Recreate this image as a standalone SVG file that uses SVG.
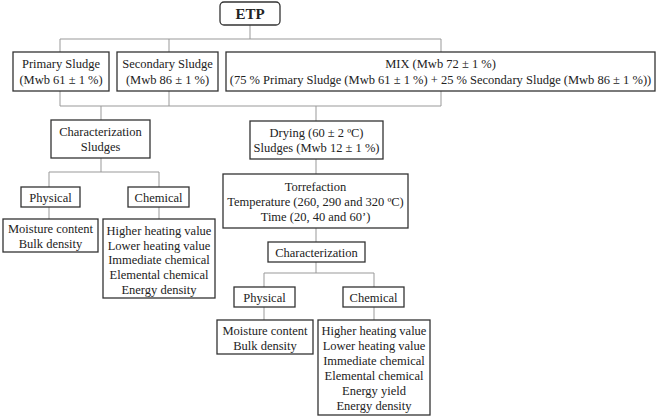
<svg xmlns="http://www.w3.org/2000/svg" width="660" height="418" viewBox="0 0 660 418" font-family="'Liberation Serif', 'Times New Roman', Times, serif">
<style>
.box{fill:#fff;stroke:#333;stroke-width:1.3}
.c{fill:none;stroke:#999;stroke-width:1}
text{font-family:'Liberation Serif','Times New Roman',Times,serif;font-size:12.5px;fill:#222;text-anchor:middle}
.b{font-weight:bold;font-size:15px}
</style>
<rect width="660" height="418" fill="#fff"/>
<g id="connectors">
<path class="c" d="M250 25V39M60 39H441M60 39V52M169 39V52M441 39V52"/>
<path class="c" d="M60 91V106M169 91V106M441 91V106M60 106H441M101 106V120M316 106V121"/>
<path class="c" d="M101 158V172M49 172H159M49 172V187M159 172V187M49 207V219M159 207V219"/>
<path class="c" d="M316 159V174M316 228V242M316 262V273M264 273H374M264 273V287M374 273V287M264 307V320M374 307V320"/>
</g>
<g id="etp"><rect class="box" x="220" y="2" width="60" height="23" rx="4"/><text class="b" x="250" y="19">ETP</text></g>
<g id="primary"><rect class="box" x="13" y="52" width="96" height="39"/><text x="61" y="68">Primary Sludge</text><text x="61" y="84">(Mwb 61 ± 1 %)</text></g>
<g id="secondary"><rect class="box" x="117" y="52" width="101" height="39"/><text x="167.5" y="68">Secondary Sludge</text><text x="167.5" y="84">(Mwb 86 ± 1 %)</text></g>
<g id="mix"><rect class="box" x="226" y="52" width="429" height="39"/><text x="440.5" y="68">MIX (Mwb 72 ± 1 %)</text><text x="440.5" y="84">(75 % Primary Sludge (Mwb 61 ± 1 %) + 25 % Secondary Sludge (Mwb 86 ± 1 %))</text></g>
<g id="char-sludges"><rect class="box" x="51" y="120" width="99" height="38"/><text x="100.5" y="136">Characterization</text><text x="100.5" y="151">Sludges</text></g>
<g id="drying"><rect class="box" x="250" y="121" width="133" height="38"/><text x="316.5" y="137">Drying (60 ± 2 ºC)</text><text x="316.5" y="152">Sludges (Mwb 12 ± 1 %)</text></g>
<g id="physical1"><rect class="box" x="21" y="187" width="59" height="20"/><text x="50.5" y="201.5">Physical</text></g>
<g id="chemical1"><rect class="box" x="128" y="187" width="61" height="20"/><text x="158.5" y="201.5">Chemical</text></g>
<g id="phys-list1"><rect class="box" x="3" y="219" width="95" height="33"/><text x="50.5" y="233">Moisture content</text><text x="50.5" y="248">Bulk density</text></g>
<g id="chem-list1"><rect class="box" x="103" y="219" width="112" height="79"/><text x="159" y="235">Higher heating value</text><text x="159" y="250">Lower heating value</text><text x="159" y="264">Immediate chemical</text><text x="159" y="279">Elemental chemical</text><text x="159" y="294">Energy density</text></g>
<g id="torrefaction"><rect class="box" x="223" y="174" width="185" height="54"/><text x="315.5" y="191">Torrefaction</text><text x="315.5" y="206">Temperature (260, 290 and 320 ºC)</text><text x="315.5" y="221">Time (20, 40 and 60’)</text></g>
<g id="characterization"><rect class="box" x="268" y="242" width="97" height="20"/><text x="316.5" y="256.5">Characterization</text></g>
<g id="physical2"><rect class="box" x="234" y="287" width="61" height="20"/><text x="264.5" y="301.5">Physical</text></g>
<g id="chemical2"><rect class="box" x="343" y="287" width="61" height="20"/><text x="373.5" y="301.5">Chemical</text></g>
<g id="phys-list2"><rect class="box" x="217" y="320" width="96" height="34"/><text x="265" y="335">Moisture content</text><text x="265" y="350">Bulk density</text></g>
<g id="chem-list2"><rect class="box" x="318" y="320" width="112" height="95"/><text x="374" y="335">Higher heating value</text><text x="374" y="350">Lower heating value</text><text x="374" y="365">Immediate chemical</text><text x="374" y="380">Elemental chemical</text><text x="374" y="395">Energy yield</text><text x="374" y="410">Energy density</text></g>
</svg>
